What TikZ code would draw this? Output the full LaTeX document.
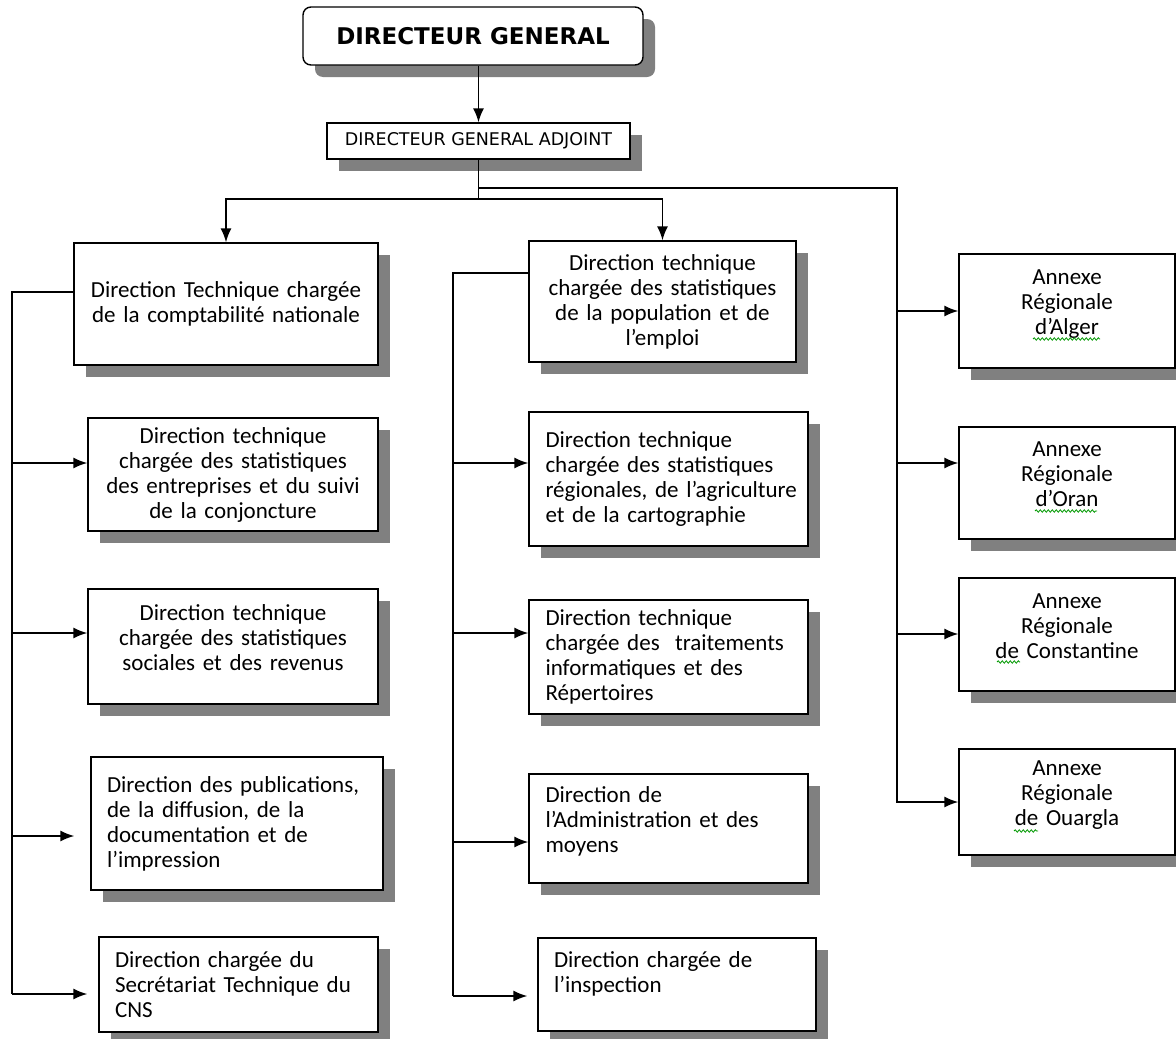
\documentclass[tikz,border=0pt]{standalone}
\usepackage{fontspec}
\setmainfont{Carlito}
\newfontfamily\tahoma{DejaVu Sans}
\usetikzlibrary{shadows,arrows.meta,decorations.pathmorphing}

\tikzset{
  unit/.style={draw,fill=white,line width=1.4pt,inner sep=0pt,
    drop shadow={shadow xshift=12pt,shadow yshift=-12pt,opacity=1,fill=black!50},
    font=\fontsize{23}{25}\selectfont},
  link/.style={line width=1.5pt},
  squig/.style={green!60!black,line width=0.8pt,decorate,
    decoration={snake,amplitude=1.2pt,segment length=4pt}},
  >={Latex[length=14pt,width=11pt]}
}

\begin{document}
\begin{tikzpicture}[x=1pt,y=-1pt]
\useasboundingbox (0,0) rectangle (1176,1039);
% top
\node[unit,rounded corners=8pt,minimum width=340,minimum height=58,
  font=\tahoma\bfseries\fontsize{23}{25}\selectfont] (dg) at (473,36) {DIRECTEUR GENERAL};
\node[unit,minimum width=303,minimum height=36,
  font=\tahoma\fontsize{17.5}{20}\selectfont] (dga) at (478.5,141) {DIRECTEUR GENERAL ADJOINT};
% left column
\node[unit,minimum width=304,minimum height=122,text width=282pt,align=center] (l1) at (226,304)
  {Direction Technique chargée\\de la comptabilité nationale};
\node[unit,minimum width=290,minimum height=113,text width=280pt,align=center] (l2) at (233,474.5)
  {Direction technique\\chargée des statistiques\\des entreprises et du suivi\\de la conjoncture};
\node[unit,minimum width=290,minimum height=115,text width=280pt,align=center] (l3) at (233,646.5)
  {Direction technique\\chargée des statistiques\\sociales et des revenus\\[-8pt]\mbox{}};
\node[unit,minimum width=292,minimum height=133,text width=260pt,align=left] (l4) at (237,823.5)
  {Direction des publications,\\de la diffusion, de la\\documentation et de\\l’impression};
\node[unit,minimum width=279,minimum height=95,text width=247pt,align=left] (l5) at (238.5,984.5)
  {Direction chargée du\\Secrétariat Technique du\\CNS};
% middle column
\node[unit,minimum width=267,minimum height=121,text width=257pt,align=center] (m1) at (662.5,301.5)
  {Direction technique\\chargée des statistiques\\de la population et de\\l’emploi};
\node[unit,minimum width=279,minimum height=134,text width=246pt,align=left] (m2) at (668.5,479)
  {Direction technique\\chargée des statistiques\\\mbox{régionales, de l’agriculture}\\et de la cartographie};
\node[unit,minimum width=279,minimum height=114,text width=246pt,align=left] (m3) at (668.5,657)
  {Direction technique\\chargée des \ traitements\\informatiques et des\\Répertoires};
\node[unit,minimum width=279,minimum height=109,text width=246pt,align=left] (m4) at (668.5,828.5)
  {Direction de\\l’Administration et des\\moyens\\[-8pt]\mbox{}};
\node[unit,minimum width=278,minimum height=93,text width=246pt,align=left] (m5) at (677,984.5)
  {Direction chargée de\\l’inspection\\\mbox{}};
% right column
\node[unit,minimum width=216,minimum height=114,text width=200pt,align=center] (a1) at (1067,311)
  {Annexe\\Régionale\\d’Alger\\[-8pt]\mbox{}};
\node[unit,minimum width=216,minimum height=112,text width=200pt,align=center] (a2) at (1067,483)
  {Annexe\\Régionale\\d’Oran\\[-8pt]\mbox{}};
\node[unit,minimum width=216,minimum height=113,text width=200pt,align=center] (a3) at (1067,634.5)
  {Annexe\\Régionale\\de Constantine\\[-8pt]\mbox{}};
\node[unit,minimum width=216,minimum height=106,text width=200pt,align=center] (a4) at (1067,802)
  {Annexe\\Régionale\\de Ouargla\\[-8pt]\mbox{}};
% spell marks
\draw[squig] (1033,339) -- (1100,339);
\draw[squig] (1035,511) -- (1097,511);
\draw[squig] (997,662) -- (1020,662);
\draw[squig] (1014,831) -- (1038,831);
% links from the top
\coordinate (j1) at (478.5,199);
\coordinate (j2) at (478.5,188);
\coordinate (rtop) at (897,188);
\draw[link,->] (dga.north |- dg.south) -- (dga.north);
\draw[link] (dga.south) -- (j1);
\draw[link,->] (j1) -| (l1.north);
\draw[link,->] (j1) -| (m1.north);
\draw[link,->] (j2) -- (rtop) |- (a4.west);
% left trunk
\coordinate (ltop) at (12,292);
\coordinate (lbot) at (12,994);
\draw[link] (ltop -| l1.west) -- (ltop) -- (lbot);
\foreach \n/\y/\gap in {2/463/0,3/633/0,4/836/16,5/994/11}{
  \coordinate (L\n) at (12,\y);
  \draw[link,->,shorten >=\gap pt] (L\n) -- (L\n -| l\n.west);
}
% middle trunk
\coordinate (mtop) at (453,273);
\coordinate (mbot) at (453,996);
\draw[link] (mtop -| m1.west) -- (mtop) -- (mbot);
\foreach \n/\y/\gap in {2/463/0,3/633/0,4/842/0,5/996/10}{
  \coordinate (M\n) at (453,\y);
  \draw[link,->,shorten >=\gap pt] (M\n) -- (M\n -| m\n.west);
}
% right trunk
\foreach \n/\y in {1/311,2/463,3/634}{
  \coordinate (R\n) at (897,\y);
  \draw[link,->] (R\n) -- (R\n -| a\n.west);
}
\end{tikzpicture}
\end{document}
